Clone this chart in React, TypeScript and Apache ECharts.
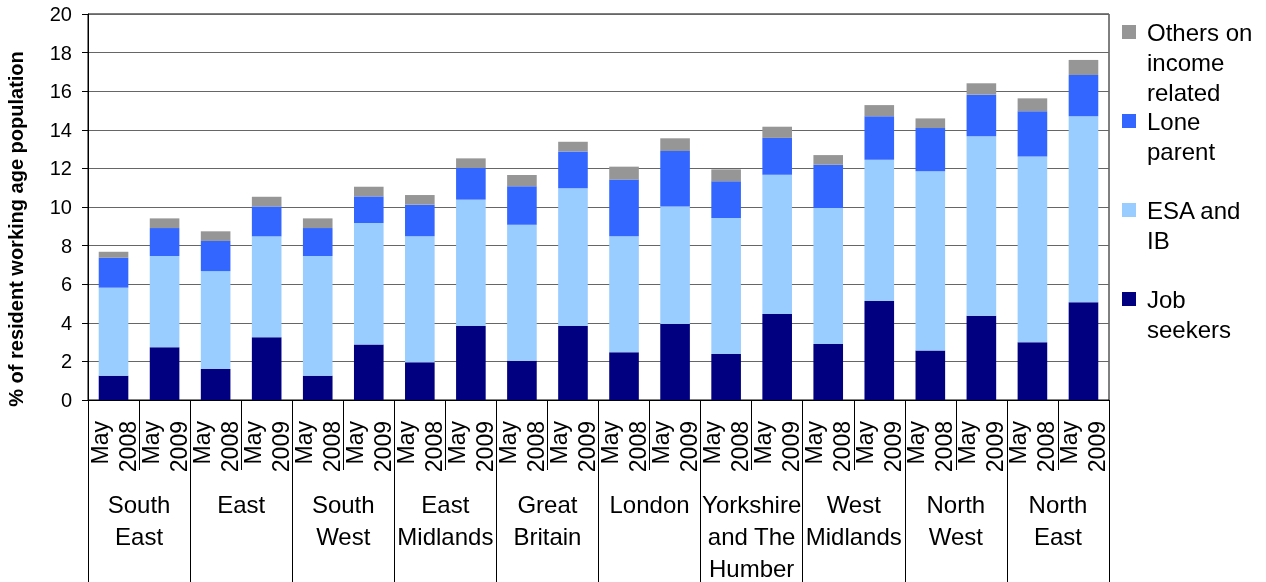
import React, { useEffect, useRef } from "react";
import * as echarts from "echarts";

const FONT = "'Liberation Sans', Arial, sans-serif";

const regions = [
  "South\nEast",
  "East",
  "South\nWest",
  "East\nMidlands",
  "Great\nBritain",
  "London",
  "Yorkshire\nand The\nHumber",
  "West\nMidlands",
  "North\nWest",
  "North\nEast",
];
const periods = ["May 2008", "May 2009"];

const jobSeekers = [1.26, 2.73, 1.61, 3.25, 1.26, 2.88, 1.95, 3.83, 2.04, 3.83, 2.47, 3.94, 2.38, 4.46, 2.9, 5.13, 2.56, 4.37, 2.99, 5.06];
const esaIb = [4.56, 4.73, 5.07, 5.23, 6.2, 6.29, 6.53, 6.55, 7.04, 7.14, 6.01, 6.09, 7.05, 7.21, 7.05, 7.32, 9.29, 9.29, 9.63, 9.64];
const loneParent = [1.55, 1.45, 1.56, 1.55, 1.45, 1.38, 1.64, 1.64, 1.99, 1.91, 2.94, 2.87, 1.9, 1.91, 2.24, 2.25, 2.24, 2.16, 2.34, 2.14];
const others = [0.31, 0.5, 0.5, 0.5, 0.5, 0.5, 0.5, 0.5, 0.59, 0.5, 0.67, 0.66, 0.62, 0.58, 0.5, 0.58, 0.5, 0.59, 0.67, 0.78];

const seriesNames = ["Job seekers", "ESA and IB", "Lone parent", "Others on income related"];
// leading/trailing blank lines keep the first line level with the legend swatch
const legendLabels: Record<string, string> = {
  "Others on income related": "\n\nOthers on\nincome\nrelated",
  "Lone parent": "\n\nLone\nparent\n",
  "ESA and IB": "\n\nESA and\nIB\n",
  "Job seekers": "\n\nJob\nseekers\n",
};
const colors = ["#000080", "#99CCFF", "#3366FF", "#969696"];

const yTicks = { min: 0, max: 20, interval: 2 };

export default function App() {
  const ref = useRef<HTMLDivElement>(null);
  useEffect(() => {
    document.body.style.margin = "0";
    const chart = echarts.init(ref.current!, undefined, { renderer: "svg" });
    const xKeys: string[] = [];
    regions.forEach((r, ri) => periods.forEach((p) => xKeys.push(p + "|" + ri)));
    const seriesData = [jobSeekers, esaIb, loneParent, others];
    const option: any = {
      animation: false,
      textStyle: { fontFamily: FONT },
      grid: {
        left: 88,
        right: 157,
        top: 14,
        bottom: 182,
        show: true,
        borderColor: "#000",
        borderWidth: 1,
        containLabel: false,
        outerBoundsMode: "none",
      },
      legend: {
        orient: "vertical",
        left: 1122,
        top: -43,
        itemGap: -61,
        itemWidth: 14,
        itemHeight: 14,
        padding: 0,
        icon: "rect",
        selectedMode: false,
        formatter: (n: string) => legendLabels[n],
        textStyle: {
          fontSize: 24,
          lineHeight: 30,
          color: "#000",
          fontFamily: FONT,
          padding: [0, 0, 0, 6],
        },
        data: [seriesNames[3], seriesNames[2], seriesNames[1], seriesNames[0]],
      },
      xAxis: [
        {
          type: "category",
          data: xKeys,
          position: "bottom",
          axisLine: { show: true, lineStyle: { color: "#000", width: 1 } },
          axisTick: { show: true, interval: 0, length: 70, lineStyle: { color: "#000" } },
          axisLabel: {
            interval: 0,
            rotate: 90,
            margin: 21,
            fontSize: 23,
            lineHeight: 28,
            color: "#000",
            fontFamily: FONT,
            formatter: (v: string) => v.split("|")[0].replace(" ", "\n"),
          },
          splitLine: { show: false },
        },
        {
          type: "category",
          data: regions,
          position: "bottom",
          offset: 0,
          axisLine: { show: false },
          axisTick: { show: true, interval: 0, length: 182, lineStyle: { color: "#000" } },
          axisLabel: {
            interval: 0,
            margin: 88,
            fontSize: 24,
            lineHeight: 32,
            color: "#000",
            fontFamily: FONT,
          },
          splitLine: { show: false },
        },
      ],
      yAxis: {
        type: "value",
        min: yTicks.min,
        max: yTicks.max,
        interval: yTicks.interval,
        name: "% of resident working age population",
        nameLocation: "middle",
        nameGap: 62,
        nameRotate: 90,
        nameTextStyle: {
          fontWeight: "bold",
          fontSize: 20,
          color: "#000",
          fontFamily: FONT,
          padding: [0, 44, 0, 0],
        },
        axisLine: { show: true, lineStyle: { color: "#000" } },
        axisTick: { show: true, length: 6, lineStyle: { color: "#000" } },
        axisLabel: { fontSize: 20, color: "#000", margin: 16, fontFamily: FONT },
        splitLine: { show: true, lineStyle: { color: "#666", width: 1 } },
      },
      series: seriesNames.map((name, i) => ({
        name,
        type: "bar",
        stack: "total",
        xAxisIndex: 0,
        barWidth: "58%",
        itemStyle: { color: colors[i] },
        data: seriesData[i],
      })),
    };
    chart.setOption(option);
    return () => chart.dispose();
  }, []);
  return (
    <div
      ref={ref}
      style={{ position: "fixed", left: 0, top: 0, width: 1266, height: 582 }}
    />
  );
}
